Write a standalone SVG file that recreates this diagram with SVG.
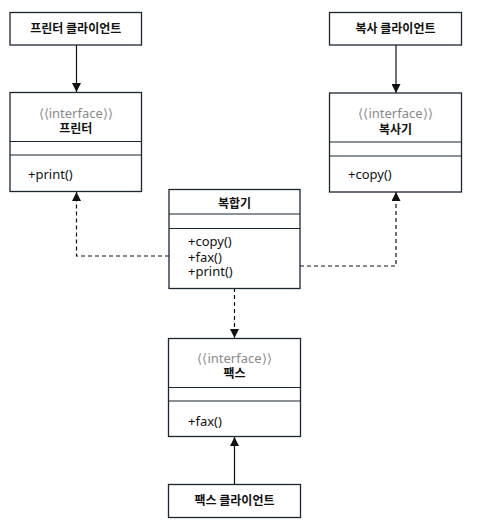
<svg xmlns="http://www.w3.org/2000/svg" width="477" height="531" viewBox="0 0 477 531">
<style>
.box{fill:#fff;stroke:#1b2533;stroke-width:1.3}
.ln{stroke:#1b2533;stroke-width:1.1}
.t{font-family:"Noto Sans CJK KR","Noto Sans",sans-serif;font-size:12px;fill:#111}
.m{font-family:"Noto Sans","Noto Sans CJK KR",sans-serif;font-size:13px;fill:#111}
.b{font-weight:bold;text-anchor:middle}
.st{font-family:"Noto Sans","Noto Sans CJK KR",sans-serif;font-size:13px;fill:#8a8a8a;text-anchor:middle}
.con{fill:none;stroke:#111;stroke-width:1.2}
.dash{stroke-dasharray:4 3}
</style>
<defs>
<marker id="ah" viewBox="0 0 10 10" refX="10" refY="5" markerWidth="9" markerHeight="9" markerUnits="userSpaceOnUse" orient="auto">
<path d="M0,0 L10,5 L0,10 z" fill="#111"/>
</marker>
</defs>
<g id="connectors">
<line class="con" x1="76.5" y1="45" x2="76.5" y2="92" marker-end="url(#ah)"/>
<line class="con" x1="396" y1="45" x2="396" y2="93" marker-end="url(#ah)"/>
<polyline class="con dash" points="169,256 76.5,256 76.5,192" marker-end="url(#ah)"/>
<polyline class="con dash" points="300,266 396,266 396,192" marker-end="url(#ah)"/>
<line class="con dash" x1="234.5" y1="288" x2="234.5" y2="338" marker-end="url(#ah)"/>
<line class="con" x1="234.5" y1="484" x2="234.5" y2="437" marker-end="url(#ah)"/>
</g>
<g id="printer-client">
<rect class="box" x="10" y="12.5" width="131.5" height="32.5"/>
<text class="t b" x="75.75" y="33">프린터 클라이언트</text>
</g>
<g id="copier-client">
<rect class="box" x="329.5" y="12.5" width="132" height="32.5"/>
<text class="t b" x="395.5" y="33">복사 클라이언트</text>
</g>
<g id="printer">
<rect class="box" x="10" y="92.5" width="131.5" height="99"/>
<line class="ln" x1="10" y1="141.5" x2="141.5" y2="141.5"/>
<line class="ln" x1="10" y1="155" x2="141.5" y2="155"/>
<text class="st" x="75.75" y="117.5">⟨⟨interface⟩⟩</text>
<text class="t b" x="75.75" y="133">프린터</text>
<text class="m" x="28" y="178.5">+print()</text>
</g>
<g id="copier">
<rect class="box" x="329.5" y="93" width="132" height="99"/>
<line class="ln" x1="329.5" y1="142" x2="461.5" y2="142"/>
<line class="ln" x1="329.5" y1="156" x2="461.5" y2="156"/>
<text class="st" x="395.5" y="118">⟨⟨interface⟩⟩</text>
<text class="t b" x="395.5" y="133.5">복사기</text>
<text class="m" x="348" y="179">+copy()</text>
</g>
<g id="multifunction">
<rect class="box" x="169" y="189.5" width="131" height="99"/>
<line class="ln" x1="169" y1="214" x2="300" y2="214"/>
<line class="ln" x1="169" y1="228.5" x2="300" y2="228.5"/>
<text class="t b" x="234.5" y="207.5">복합기</text>
<text class="m" x="188" y="246">+copy()</text>
<text class="m" x="188" y="261.5">+fax()</text>
<text class="m" x="188" y="276">+print()</text>
</g>
<g id="fax">
<rect class="box" x="168.5" y="338.5" width="132" height="98"/>
<line class="ln" x1="168.5" y1="387.5" x2="300.5" y2="387.5"/>
<line class="ln" x1="168.5" y1="401" x2="300.5" y2="401"/>
<text class="st" x="234.5" y="362.5">⟨⟨interface⟩⟩</text>
<text class="t b" x="234.5" y="378">팩스</text>
<text class="m" x="188" y="425.5">+fax()</text>
</g>
<g id="fax-client">
<rect class="box" x="168.5" y="484.5" width="132" height="33"/>
<text class="t b" x="234.5" y="505">팩스 클라이언트</text>
</g>
</svg>
